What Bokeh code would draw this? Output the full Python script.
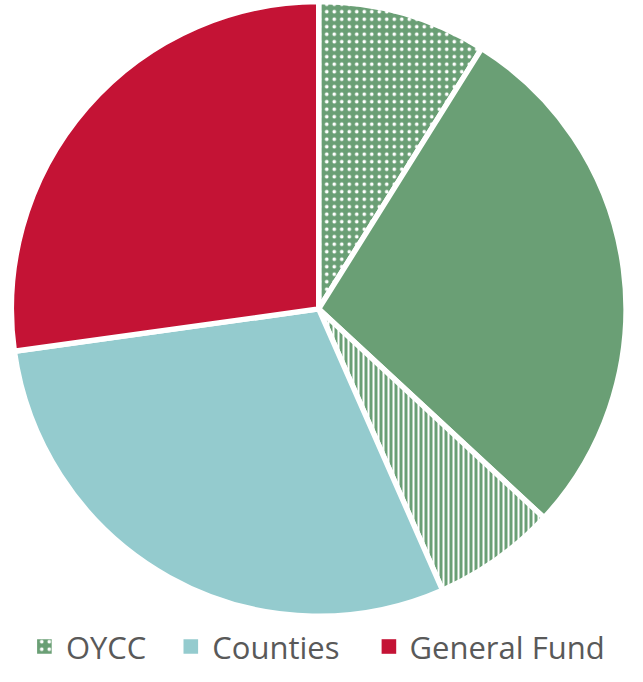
import math
from bokeh.plotting import figure
from bokeh.models import Range1d, ColumnDataSource
from bokeh.core.properties import value
from bokeh.embed import file_html
from bokeh.resources import INLINE

# Data (clockwise from 12 o'clock)
slices = ["OYCC", "Other A", "Other B", "Counties", "General Fund"]
shares = [8.9, 28.0, 6.5, 29.4, 27.2]
colors = ["#6A9F75", "#6A9F75", "#6A9F75", "#94CBCE", "#C41335"]
hatches = ["dot", " ", "vertical_line", " ", " "]
hatch_scales = [7.5, 8, 5, 8, 8]
hatch_weights = [2.2, 1, 2, 1, 1]

legend_labels = ["OYCC", "Counties", "General Fund"]
legend_idx = [0, 3, 4]

W, H = 627, 666
p = figure(width=W, height=H, output_backend="svg", toolbar_location=None,
           x_range=Range1d(0, W), y_range=Range1d(0, H),
           min_border=0, outline_line_color=None)
p.axis.visible = False
p.grid.visible = False
p.background_fill_color = "white"

cx, cy, r = 318.2, 357.6, 307.3
total = sum(shares)
cum = 0.0
starts, ends = [], []
for s in shares:
    a0 = math.pi / 2 - 2 * math.pi * (cum + s) / total
    a1 = math.pi / 2 - 2 * math.pi * cum / total
    starts.append(a0)
    ends.append(a1)
    cum += s

src = ColumnDataSource(dict(x=[cx] * len(shares), y=[cy] * len(shares),
                            start=starts, end=ends, color=colors,
                            hatch=hatches, hs=hatch_scales, hw=hatch_weights))
p.wedge(x="x", y="y", radius=r, start_angle="start", end_angle="end",
        fill_color="color", line_color="white", line_width=5.4,
        hatch_pattern="hatch", hatch_color="white", hatch_scale="hs",
        hatch_weight="hw", source=src)

# Legend (manual)
mx = [43.9, 190.3, 388.4]
tx = [65.4, 211.8, 409.0]
ly = 20
lsrc = ColumnDataSource(dict(x=mx, y=[ly] * 3,
                             color=[colors[i] for i in legend_idx],
                             hatch=[hatches[i] for i in legend_idx],
                             hs=[hatch_scales[i] for i in legend_idx],
                             hw=[hatch_weights[i] for i in legend_idx]))
p.rect(x="x", y="y", width=14.6, height=14.6, fill_color="color", line_color=None,
       hatch_pattern="hatch", hatch_color="white", hatch_scale="hs",
       hatch_weight="hw", source=lsrc)
p.text(x=tx, y=[ly] * 3, text=legend_labels, text_font=value("Open Sans"),
       text_font_size="31px", text_color="#595959", text_baseline="middle",
       text_align="left")

open("out.html", "w").write(file_html(p, INLINE))
